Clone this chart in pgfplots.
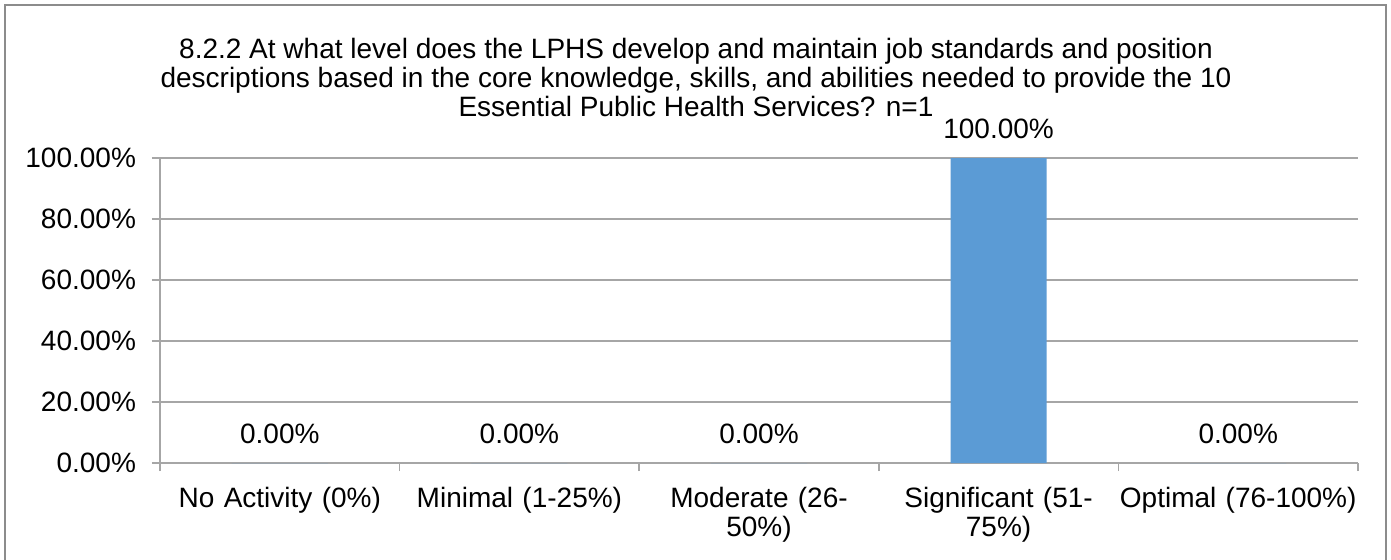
\documentclass[border=0pt]{standalone}
\usepackage{fontspec}
\setmainfont{Liberation Sans}
\usepackage{pgfplots}
\pgfplotsset{compat=1.18}
\definecolor{barblue}{HTML}{5B9BD5}
\definecolor{gridgray}{HTML}{A6A6A6}
\definecolor{framegray}{HTML}{8C8C8C}

\begin{document}
% 1 px of the reference = 0.5pt, y measured upwards from the bottom edge
\begin{tikzpicture}[x=0.5pt,y=0.5pt]
\useasboundingbox (0,0) rectangle (1391,559);
\clip (0,0) rectangle (1391,559);
\fill[white] (0,0) rectangle (1391,559);
\draw[framegray, line width=1pt] (5,554) rectangle (1386,-20);

\node[align=center, font=\fontsize{14}{14.5}\selectfont] at (696,482)
  {8.2.2 At what level does the LPHS develop and maintain job standards and position\\
   descriptions based in the core knowledge, skills, and abilities needed to provide the 10\\
   Essential Public Health Services? n=1};

\begin{axis}[
    at={(80pt,48pt)}, anchor=south west,
    scale only axis,
    width=599pt, height=152.5pt,
    xmin=-0.5, xmax=4.5,
    ymin=0, ymax=100,
    ybar, bar width=48pt,
    axis x line*=bottom, axis y line*=left,
    axis line style={gridgray, line width=0.8pt, -},
    ymajorgrids,
    grid style={gridgray, line width=0.8pt},
    font=\fontsize{14}{14.5}\selectfont,
    ytick={0,20,40,60,80,100},
    yticklabels={0.00\%,20.00\%,40.00\%,60.00\%,80.00\%,100.00\%},
    yticklabel style={xshift=-4.5pt},
    ytick style={gridgray, line width=0.8pt},
    major tick length=4pt,
    tick align=outside,
    xtick={0,1,2,3,4},
    xticklabels={No Activity (0\%),Minimal (1-25\%),Moderate (26-\\50\%),Significant (51-\\75\%),Optimal (76-100\%)},
    xtick style={draw=none},
    xticklabel style={align=center, text width=132pt, yshift=-4.5pt},
    extra x ticks={-0.5,0.5,1.5,2.5,3.5,4.5},
    extra x tick labels={},
    extra x tick style={grid=none, xtick style={gridgray, line width=0.8pt, draw=gridgray}},
    nodes near coords={\pgfmathprintnumber[fixed,fixed zerofill,precision=2,assume math mode=true]{\pgfplotspointmeta}\%},
    every node near coord/.append style={anchor=south, inner sep=0pt, yshift=9.5pt, black},
    clip=false,
]
\addplot[fill=barblue, draw=none] coordinates {(0,0) (1,0) (2,0) (3,100) (4,0)};
\end{axis}
\end{tikzpicture}
\end{document}
